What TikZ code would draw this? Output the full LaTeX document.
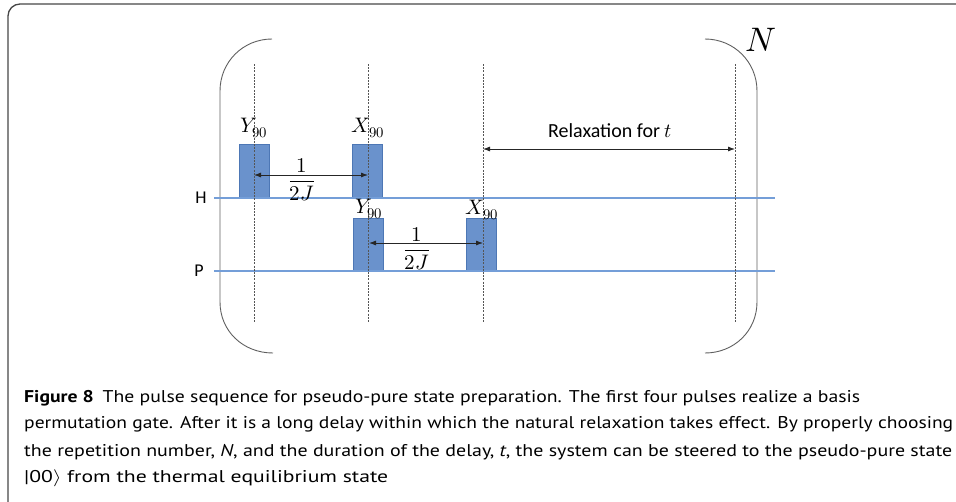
\documentclass[tikz,border=0pt]{standalone}
\usepackage{fontspec}
\usepackage{unicode-math}
\setmainfont{Carlito}
\setmathfont{Latin Modern Math}
\newfontfamily\capfont{PT Sans}
\usetikzlibrary{arrows.meta}
\definecolor{bluel}{RGB}{116,158,216}
\definecolor{pulsefill}{RGB}{106,146,204}
\definecolor{pulseedge}{RGB}{77,119,181}
\definecolor{framec}{RGB}{70,70,70}
\definecolor{brkc}{RGB}{95,95,95}
\definecolor{dashc}{RGB}{85,85,85}
\tikzset{
  framestyle/.style={draw=framec, line width=1.3pt, rounded corners=12pt},
  brk/.style={draw=brkc, line width=0.9pt},
  guide/.style={draw=dashc, line width=0.6pt, dash pattern=on 2pt off 1.2pt},
  chan/.style={draw=bluel, line width=2.6pt},
  pulse/.style={draw=pulseedge, fill=pulsefill, line width=0.8pt, minimum width=30pt, inner sep=0pt, anchor=south},
  dimarrow/.style={draw=black!85, line width=0.8pt, {Latex[length=7pt,width=5pt]}-{Latex[length=7pt,width=5pt]}},
  plabel/.style={font=\fontsize{21}{23}\selectfont, anchor=base, inner sep=0pt},
  chlabel/.style={font=\fontsize{18}{20}\selectfont, inner sep=0pt},
  capline/.style={anchor=base west, inner sep=0pt, font=\capfont\fontsize{17}{27}\selectfont},
}
\begin{document}
\begin{tikzpicture}[x=1pt,y=-1pt]
\useasboundingbox (0,0) rectangle (956,501);
\clip (0,0) rectangle (956,501);
% outer frame
\draw[framestyle] (8,4) rectangle (975,520);
% brackets
\draw[brk] (272,39) .. controls (243,39) and (220,62) .. (220,91) -- (220,302) .. controls (220,331) and (243,353) .. (273,353);
\draw[brk] (705,39) .. controls (734,39) and (757,62) .. (757,91) -- (757,302) .. controls (757,331) and (734,353) .. (705,353);
\node[font=\fontsize{34}{36}\selectfont, anchor=base, inner sep=0pt] (nrep) at (761,51) {$N$};
% pulses
\node[pulse, minimum height=53pt] (p1) at (254,198) {};
\node[pulse, minimum height=53pt] (p2) at (367,198) {};
\node[pulse, minimum height=52pt] (p3) at (368,271) {};
\node[pulse, minimum height=52pt] (p4) at (481.5,271) {};
% channels
\coordinate (hs) at (214,198); \coordinate (he) at (775,198);
\coordinate (ps) at (214,271); \coordinate (pe) at (775,271);
\draw[chan] (hs) -- (he);
\draw[chan] (ps) -- (pe);
\node[chlabel] (hl) at (201,198) {H};
\node[chlabel] (pl) at (199,271) {P};
% guides
\foreach \n/\x in {a/254,b/368,c/483,d/735}{
  \coordinate (g\n t) at (\x,64);
  \coordinate (g\n b) at (\x,322);
  \draw[guide] (g\n t) -- (g\n b);
}
% pulse labels
\node[plabel] (l1) at (254,132) {$Y_{90}$};
\node[plabel] (l2) at (368,132) {$X_{90}$};
\node[plabel] (l3) at (369,213) {$Y_{90}$};
\node[plabel] (l4) at (482,214) {$X_{90}$};
% delay arrows
\coordinate (a1l) at (254,175); \coordinate (a1r) at (368,175);
\draw[dimarrow] (a1l) -- (a1r);
\node[plabel] (f1) at (302,186.25) {$\displaystyle\frac{1}{2J}$};
\coordinate (a2l) at (369,243); \coordinate (a2r) at (483,243);
\draw[dimarrow] (a2l) -- (a2r);
\node[plabel] (f2) at (417,255.25) {$\displaystyle\frac{1}{2J}$};
\coordinate (a3l) at (483,149); \coordinate (a3r) at (735,149);
\draw[dimarrow] (a3l) -- (a3r);
\node[plabel, font=\fontsize{20}{22}\selectfont] (rl) at (610,137) {Relaxation for $t$};
% caption
\node[capline] (c1) at (24,402) {\resizebox{836pt}{\height}{\textbf{Figure 8}\hspace{0.45em}The pulse sequence for pseudo-pure state preparation. The first four pulses realize a basis}};
\node[capline] (c2) at (24,428) {\resizebox{929pt}{\height}{permutation gate. After it is a long delay within which the natural relaxation takes effect. By properly choosing}};
\node[capline] (c3) at (24,456) {\resizebox{928pt}{\height}{the repetition number, \textit{N}, and the duration of the delay, \textit{t}, the system can be steered to the pseudo-pure state}};
\node[capline] (c4) at (24,482) {\resizebox{364pt}{\height}{|00$\rangle$ from the thermal equilibrium state}};
\end{tikzpicture}
\end{document}
